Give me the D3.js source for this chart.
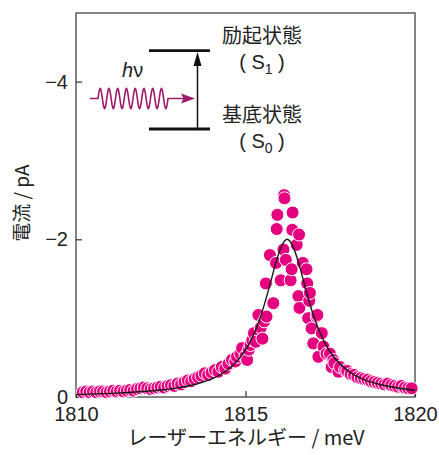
<!DOCTYPE html>
<html>
<head>
<meta charset="utf-8">
<script src="https://cdn.jsdelivr.net/npm/d3@7"></script>
<style>
  body { margin: 0; background: #fff; }
  text { font-family: "Liberation Sans", Arial, sans-serif; fill: #222; }
  .jp { font-family: "Noto Sans CJK JP", sans-serif; }
</style>
</head>
<body>
<div class="vis"></div>
<script>
// measured points: laser energy (meV) and current (pA)
const energy = [
  1810.2, 1810.3, 1810.4, 1810.5, 1810.6, 1810.7, 1810.8, 1810.9,
  1811.0, 1811.1, 1811.2, 1811.3, 1811.4, 1811.5, 1811.6, 1811.7, 1811.8, 1811.9,
  1812.0, 1812.1, 1812.2, 1812.3, 1812.4, 1812.5, 1812.6, 1812.7, 1812.8, 1812.9,
  1813.0, 1813.1, 1813.2, 1813.3, 1813.4, 1813.5, 1813.6, 1813.7, 1813.8, 1813.9,
  1814.0, 1814.1, 1814.2, 1814.3, 1814.4, 1814.5, 1814.6, 1814.7, 1814.75, 1814.85,
  1814.9, 1815.0, 1815.05, 1815.1, 1815.15, 1815.2, 1815.25, 1815.3, 1815.38, 1815.45,
  1815.5, 1815.55, 1815.6, 1815.62, 1815.72, 1815.82, 1815.9, 1815.92, 1815.94, 1816.04,
  1816.12, 1816.14, 1816.15, 1816.19, 1816.33, 1816.36, 1816.38, 1816.39, 1816.51, 1816.56,
  1816.58, 1816.59, 1816.69, 1816.8, 1816.82, 1816.85, 1816.88, 1816.9, 1816.95, 1817.0,
  1817.1, 1817.12, 1817.15, 1817.25, 1817.3, 1817.39, 1817.49, 1817.54, 1817.59, 1817.62,
  1817.74, 1817.79, 1817.94, 1818.0, 1818.1, 1818.2, 1818.3, 1818.4, 1818.5, 1818.6,
  1818.7, 1818.8, 1818.9, 1819.0, 1819.1, 1819.2, 1819.3, 1819.4, 1819.5, 1819.6,
  1819.7, 1819.8, 1819.9
];
const current = [
  -0.06, -0.07, -0.06, -0.07, -0.06, -0.07, -0.07, -0.06,
  -0.07, -0.08, -0.07, -0.08, -0.07, -0.08, -0.09, -0.08, -0.10, -0.11,
  -0.12, -0.11, -0.10, -0.11, -0.12, -0.13, -0.12, -0.14, -0.15, -0.14,
  -0.17, -0.16, -0.19, -0.21, -0.20, -0.23, -0.25, -0.27, -0.30, -0.28,
  -0.31, -0.34, -0.32, -0.38, -0.36, -0.42, -0.47, -0.45, -0.51, -0.55,
  -0.62, -0.52, -0.47, -0.60, -0.66, -0.72, -0.81, -0.70, -1.04, -0.88,
  -0.74, -0.96, -1.44, -1.02, -1.80, -1.19, -1.70, -2.13, -2.31, -1.48,
  -1.87, -2.56, -2.52, -1.74, -1.48, -1.62, -2.12, -2.34, -1.93, -1.28,
  -2.06, -1.13, -1.70, -1.62, -1.44, -1.00, -1.22, -1.32, -0.87, -0.68,
  -1.02, -1.04, -0.51, -0.81, -0.64, -0.55, -0.55, -0.38, -0.47, -0.43,
  -0.32, -0.38, -0.34, -0.33, -0.29, -0.28, -0.25, -0.24, -0.23, -0.22,
  -0.20, -0.19, -0.18, -0.17, -0.16, -0.17, -0.15, -0.14, -0.13, -0.14,
  -0.12, -0.11, -0.11
];

// fitted curve
const fitEnergy = [1810, 1811, 1812, 1812.5, 1813, 1813.5, 1814, 1814.4, 1814.8, 1815.1,
  1815.4, 1815.7, 1815.9, 1816.05, 1816.23, 1816.4, 1816.6, 1816.8, 1817.0, 1817.3,
  1817.6, 1818.0, 1818.5, 1819.0, 1819.5, 1820];
const fitCurrent = [-0.03, -0.046, -0.069, -0.088, -0.116, -0.159, -0.229, -0.32, -0.48, -0.67,
  -0.96, -1.39, -1.71, -1.90, -2.00, -1.91, -1.65, -1.33, -1.04, -0.72,
  -0.51, -0.34, -0.22, -0.155, -0.114, -0.085];

const xTicks = [1810, 1815, 1820];
const yTicks = [0, -2, -4];

const dims = { width: 439, height: 455, left: 76, right: 415, top: 13, bottom: 397 };

const svg = d3.select(".vis").append("svg")
    .attr("width", dims.width)
    .attr("height", dims.height);

const x = d3.scaleLinear().domain([1810, 1820]).range([dims.left, dims.right]);
const y = d3.scaleLinear().domain([0, -4.87]).range([dims.bottom, dims.top]);

const fmt = d => d < 0 ? "\u2212" + Math.abs(d) : String(d);

// axes with inward ticks
const xAxis = svg.append("g")
    .attr("transform", `translate(0,${dims.bottom})`)
    .call(d3.axisBottom(x).tickValues(xTicks).tickFormat(fmt)
        .tickSizeInner(-6).tickSizeOuter(0).tickPadding(10));
const yAxis = svg.append("g")
    .attr("transform", `translate(${dims.left},0)`)
    .call(d3.axisLeft(y).tickValues(yTicks).tickFormat(fmt)
        .tickSizeInner(-6).tickSizeOuter(0).tickPadding(8));

[xAxis, yAxis].forEach(a => {
    a.select(".domain").remove();
    a.selectAll("line").attr("stroke", "#333").attr("stroke-width", 1.2);
    a.selectAll("text")
        .style("font-family", "'Liberation Sans', Arial, sans-serif")
        .style("font-size", "20px")
        .attr("fill", "#222");
});

// frame
svg.append("rect")
    .attr("x", dims.left).attr("y", dims.top)
    .attr("width", dims.right - dims.left)
    .attr("height", dims.bottom - dims.top)
    .attr("fill", "none")
    .attr("stroke", "#333")
    .attr("stroke-width", 1.2);

// dots
const points = energy.map((e, i) => ({ e: e, c: current[i] }));
svg.append("g").selectAll("circle")
    .data(points)
    .enter().append("circle")
    .attr("cx", d => x(d.e))
    .attr("cy", d => y(d.c))
    .attr("r", 6.5)
    .attr("fill", "#E4007F")
    .attr("stroke", "#fff")
    .attr("stroke-width", 1);

// fit line
const line = d3.line()
    .x(d => x(d[0]))
    .y(d => y(d[1]))
    .curve(d3.curveMonotoneX);
svg.append("path")
    .datum(fitEnergy.map((e, i) => [e, fitCurrent[i]]))
    .attr("d", line)
    .attr("fill", "none")
    .attr("stroke", "#1a1a1a")
    .attr("stroke-width", 1.4);

// axis titles
svg.append("text")
    .attr("class", "jp")
    .attr("x", 246).attr("y", 445)
    .attr("text-anchor", "middle")
    .style("font-size", "20px")
    .text("レーザーエネルギー / meV");

svg.append("text")
    .attr("class", "jp")
    .attr("transform", "translate(29,203) rotate(-90)")
    .attr("text-anchor", "middle")
    .style("font-size", "19px")
    .text("電流 / pA");

// energy level inset
const inset = svg.append("g");
[50.7, 129].forEach(ly => {
    inset.append("line")
        .attr("x1", 149).attr("x2", 210)
        .attr("y1", ly).attr("y2", ly)
        .attr("stroke", "#111").attr("stroke-width", 2.8);
});
inset.append("line")
    .attr("x1", 197.5).attr("x2", 197.5)
    .attr("y1", 129).attr("y2", 62)
    .attr("stroke", "#111").attr("stroke-width", 1.5);
inset.append("path")
    .attr("d", "M197.5,52 L193.5,66 L201.5,66 Z")
    .attr("fill", "#111");

// photon wave: 8 cycles between x=98 and x=168
const waveColor = "#9E1A6A";
const wave = d3.range(0, 70.5, 0.5).map(t => [98 + t, 98.5 - 10 * Math.sin(t / 70 * 8 * 2 * Math.PI)]);
inset.append("path")
    .attr("d", "M90,98.5 L98,98.5 " + d3.line()(wave).replace(/^M/, "L") + " L184,98.5")
    .attr("fill", "none")
    .attr("stroke", waveColor)
    .attr("stroke-width", 1.6);
inset.append("path")
    .attr("d", "M195,98.5 L181,93.5 L183.5,98.5 L181,103.5 Z")
    .attr("fill", waveColor);

inset.append("text")
    .attr("x", 122).attr("y", 77)
    .style("font-size", "20px")
    .html('<tspan font-style="italic">h</tspan>ν');

// level labels
const levelLabels = [
    { name: "励起状態", sub: "1", y: 43 },
    { name: "基底状態", sub: "0", y: 121.5 }
];
levelLabels.forEach(l => {
    inset.append("text")
        .attr("class", "jp")
        .attr("x", 262).attr("y", l.y)
        .attr("text-anchor", "middle")
        .style("font-size", "20px")
        .text(l.name);
    const t = inset.append("text")
        .attr("x", 262).attr("y", l.y + 26)
        .attr("text-anchor", "middle")
        .style("font-size", "20px");
    t.append("tspan").text("(  S");
    t.append("tspan").attr("dy", 5).style("font-size", "14px").text(l.sub);
    t.append("tspan").attr("dy", -5).text("  )");
});
</script>
</body>
</html>
